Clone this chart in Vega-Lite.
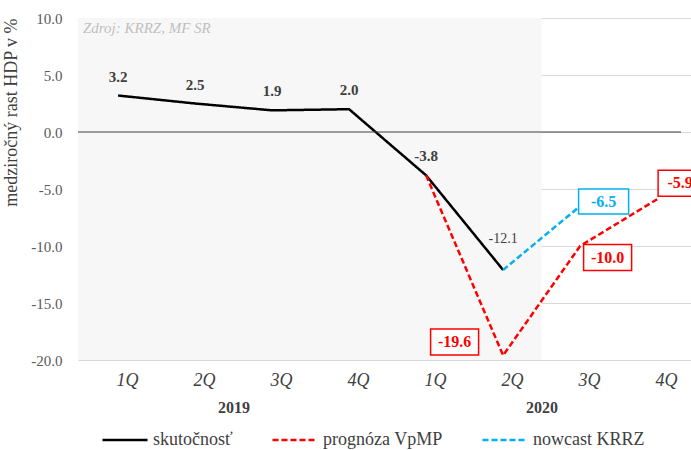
{
  "$schema": "https://vega.github.io/schema/vega-lite/v6.json",
  "autosize": {"type": "none"},
  "padding": {"left": 78, "top": 18, "right": 0, "bottom": 90},
  "width": 613,
  "height": 342,
  "background": "white",
  "config": {"view": {"stroke": null}, "font": "Liberation Serif", "locale": {"number": {"decimal": ".", "thousands": ",", "grouping": [3], "currency": ["", ""], "minus": "-"}}},
  "datasets": {
    "series": [
      {"i": 0, "v": 3.2, "s": "skutočnosť"},
      {"i": 1, "v": 2.5, "s": "skutočnosť"},
      {"i": 2, "v": 1.9, "s": "skutočnosť"},
      {"i": 3, "v": 2.0, "s": "skutočnosť"},
      {"i": 4, "v": -3.8, "s": "skutočnosť"},
      {"i": 5, "v": -12.1, "s": "skutočnosť"},
      {"i": 4, "v": -3.8, "s": "prognóza VpMP"},
      {"i": 5, "v": -19.6, "s": "prognóza VpMP"},
      {"i": 6, "v": -10.0, "s": "prognóza VpMP"},
      {"i": 7, "v": -5.9, "s": "prognóza VpMP"},
      {"i": 5, "v": -12.1, "s": "nowcast KRRZ"},
      {"i": 6, "v": -6.5, "s": "nowcast KRRZ"}
    ]
  },
  "resolve": {"axis": {"x": "independent"}},
  "layer": [
    {
      "data": {"values": [{"s": -0.52, "e": 5.5}]},
      "mark": {"type": "rect", "fill": "#f7f7f7"},
      "encoding": {
        "x": {"field": "s", "type": "quantitative", "axis": null, "scale": {"domain": [-0.52, 7.44], "nice": false, "zero": false}},
        "x2": {"field": "e"}
      }
    },
    {
      "data": {"values": [{"c": 1.5}, {"c": 5.5}]},
      "mark": {"type": "point", "opacity": 0},
      "encoding": {
        "x": {"field": "c", "type": "quantitative",
          "axis": {"orient": "bottom", "values": [1.5, 5.5], "labelExpr": "datum.value < 3 ? '2019' : '2020'", "ticks": false, "domain": false, "grid": false, "title": null, "labelFlush": false, "labelPadding": 39, "labelFont": "Liberation Serif", "labelFontSize": 16, "labelFontWeight": "bold", "labelColor": "#404040"}}
      }
    },
    {
      "data": {"name": "series"},
      "mark": {"type": "line", "strokeWidth": 2.5},
      "encoding": {
        "x": {"field": "i", "type": "quantitative",
          "axis": {"orient": "bottom", "values": [0, 1, 2, 3, 4, 5, 6, 7], "labelExpr": "['1Q','2Q','3Q','4Q'][datum.value % 4]", "ticks": false, "domain": false, "grid": false, "title": null, "labelFlush": false, "labelPadding": 11, "labelOffset": 9, "labelFont": "Liberation Serif", "labelFontSize": 18, "labelFontStyle": "italic", "labelFontWeight": "normal", "labelColor": "#404040"}},
        "y": {"field": "v", "type": "quantitative",
          "scale": {"domain": [-20, 10], "nice": false, "zero": false},
          "axis": {"values": [-20, -15, -10, -5, 0, 5, 10], "format": ".1f", "ticks": false, "domain": false, "grid": true, "gridColor": "#d9d9d9", "gridWidth": 1.2, "labelPadding": 16, "labelFont": "Liberation Serif", "labelFontSize": 15, "labelColor": "#595959", "title": "medziročný rast HDP v %", "titleFont": "Liberation Serif", "titleFontSize": 18, "titleFontWeight": "normal", "titleColor": "#404040", "titleAnchor": "end", "titlePadding": 10}},
        "color": {"field": "s", "type": "nominal",
          "scale": {"domain": ["skutočnosť", "prognóza VpMP", "nowcast KRRZ"], "range": ["#000000", "#ff0000", "#00b0f0"]},
          "legend": {"title": null, "orient": "none", "legendX": 23, "legendY": 398, "direction": "horizontal", "symbolType": "stroke", "symbolSize": 2025, "symbolStrokeWidth": 2.5, "labelFont": "Liberation Serif", "labelFontSize": 18, "labelColor": "#404040", "labelOffset": 4, "columnPadding": 34, "labelLimit": 300}},
        "strokeDash": {"field": "s", "type": "nominal",
          "scale": {"domain": ["skutočnosť", "prognóza VpMP", "nowcast KRRZ"], "range": [[1, 0], [6, 3], [6, 3]]},
          "legend": {"title": null, "orient": "none", "legendX": 23, "legendY": 398, "direction": "horizontal", "symbolType": "stroke", "symbolSize": 2025, "symbolStrokeWidth": 2.5, "labelFont": "Liberation Serif", "labelFontSize": 18, "labelColor": "#404040", "labelOffset": 4, "columnPadding": 34, "labelLimit": 300}}
      }
    },
    {
      "data": {"values": [{"z": 0}]},
      "mark": {"type": "rule", "color": "#404040", "strokeWidth": 1},
      "encoding": {
        "x": {"datum": -0.52, "type": "quantitative", "axis": null},
        "x2": {"datum": 7.31},
        "y": {"field": "z", "type": "quantitative"}
      }
    },
    {
      "data": {"values": [{"t": "Zdroj: KRRZ, MF SR"}]},
      "mark": {"type": "text", "align": "left", "baseline": "middle", "xOffset": 5, "yOffset": 10, "fontStyle": "italic", "fontSize": 15, "color": "#bfbfbf"},
      "encoding": {
        "x": {"datum": -0.52, "type": "quantitative", "axis": null},
        "y": {"datum": 10, "type": "quantitative"},
        "text": {"field": "t"}
      }
    },
    {
      "data": {"name": "series"},
      "transform": [{"filter": "datum.s == 'skutočnosť' && datum.i <= 4"}],
      "mark": {"type": "text", "baseline": "middle", "yOffset": -19, "fontWeight": "bold", "fontSize": 15, "color": "#404040"},
      "encoding": {
        "x": {"field": "i", "type": "quantitative", "axis": null},
        "y": {"field": "v", "type": "quantitative"},
        "text": {"field": "v", "format": ".1f"}
      }
    },
    {
      "data": {"name": "series"},
      "transform": [{"filter": "datum.s == 'skutočnosť' && datum.i == 5"}],
      "mark": {"type": "text", "baseline": "middle", "yOffset": -31, "fontSize": 14, "color": "#404040"},
      "encoding": {
        "x": {"field": "i", "type": "quantitative", "axis": null},
        "y": {"field": "v", "type": "quantitative"},
        "text": {"field": "v", "format": ".1f"}
      }
    },
    {
      "data": {"name": "series"},
      "transform": [{"filter": "datum.s == 'prognóza VpMP' && datum.i == 5"}],
      "mark": {"type": "point", "shape": "M-1,-0.5417H1V0.5417H-1Z", "size": 2304, "filled": true, "fill": "white", "stroke": "#ff0000", "strokeWidth": 1.5, "opacity": 1, "xOffset": -48.5, "yOffset": -13.5},
      "encoding": {
        "x": {"field": "i", "type": "quantitative", "axis": null},
        "y": {"field": "v", "type": "quantitative"}
      }
    },
    {
      "data": {"name": "series"},
      "transform": [{"filter": "datum.s == 'prognóza VpMP' && datum.i == 6"}],
      "mark": {"type": "point", "shape": "M-1,-0.5417H1V0.5417H-1Z", "size": 2304, "filled": true, "fill": "white", "stroke": "#ff0000", "strokeWidth": 1.5, "opacity": 1, "xOffset": 27.5, "yOffset": 11.5},
      "encoding": {
        "x": {"field": "i", "type": "quantitative", "axis": null},
        "y": {"field": "v", "type": "quantitative"}
      }
    },
    {
      "data": {"name": "series"},
      "transform": [{"filter": "datum.s == 'prognóza VpMP' && datum.i == 7"}],
      "mark": {"type": "point", "shape": "M-1,-0.5909H1V0.5909H-1Z", "size": 1936, "filled": true, "fill": "white", "stroke": "#ff0000", "strokeWidth": 1.5, "opacity": 1, "xOffset": 23, "yOffset": -16},
      "encoding": {
        "x": {"field": "i", "type": "quantitative", "axis": null},
        "y": {"field": "v", "type": "quantitative"}
      }
    },
    {
      "data": {"name": "series"},
      "transform": [{"filter": "datum.s == 'nowcast KRRZ' && datum.i == 6"}],
      "mark": {"type": "point", "shape": "M-1,-0.5H1V0.5H-1Z", "size": 2500, "filled": true, "fill": "white", "stroke": "#00b0f0", "strokeWidth": 1.5, "opacity": 1, "xOffset": 23.5, "yOffset": -4.5},
      "encoding": {
        "x": {"field": "i", "type": "quantitative", "axis": null},
        "y": {"field": "v", "type": "quantitative"}
      }
    },
    {
      "data": {"name": "series"},
      "transform": [{"filter": "datum.s == 'prognóza VpMP' && datum.i == 5"}],
      "mark": {"type": "text", "baseline": "middle", "fontWeight": "bold", "fontSize": 16, "color": "#ff0000", "xOffset": -48.5, "yOffset": -13.5},
      "encoding": {
        "x": {"field": "i", "type": "quantitative", "axis": null},
        "y": {"field": "v", "type": "quantitative"},
        "text": {"field": "v", "format": ".1f"}
      }
    },
    {
      "data": {"name": "series"},
      "transform": [{"filter": "datum.s == 'prognóza VpMP' && datum.i == 6"}],
      "mark": {"type": "text", "baseline": "middle", "fontWeight": "bold", "fontSize": 16, "color": "#ff0000", "xOffset": 27.5, "yOffset": 11.5},
      "encoding": {
        "x": {"field": "i", "type": "quantitative", "axis": null},
        "y": {"field": "v", "type": "quantitative"},
        "text": {"field": "v", "format": ".1f"}
      }
    },
    {
      "data": {"name": "series"},
      "transform": [{"filter": "datum.s == 'prognóza VpMP' && datum.i == 7"}],
      "mark": {"type": "text", "baseline": "middle", "fontWeight": "bold", "fontSize": 16, "color": "#ff0000", "xOffset": 23, "yOffset": -16},
      "encoding": {
        "x": {"field": "i", "type": "quantitative", "axis": null},
        "y": {"field": "v", "type": "quantitative"},
        "text": {"field": "v", "format": ".1f"}
      }
    },
    {
      "data": {"name": "series"},
      "transform": [{"filter": "datum.s == 'nowcast KRRZ' && datum.i == 6"}],
      "mark": {"type": "text", "baseline": "middle", "fontWeight": "bold", "fontSize": 16, "color": "#00b0f0", "xOffset": 23.5, "yOffset": -4.5},
      "encoding": {
        "x": {"field": "i", "type": "quantitative", "axis": null},
        "y": {"field": "v", "type": "quantitative"},
        "text": {"field": "v", "format": ".1f"}
      }
    }
  ]
}
